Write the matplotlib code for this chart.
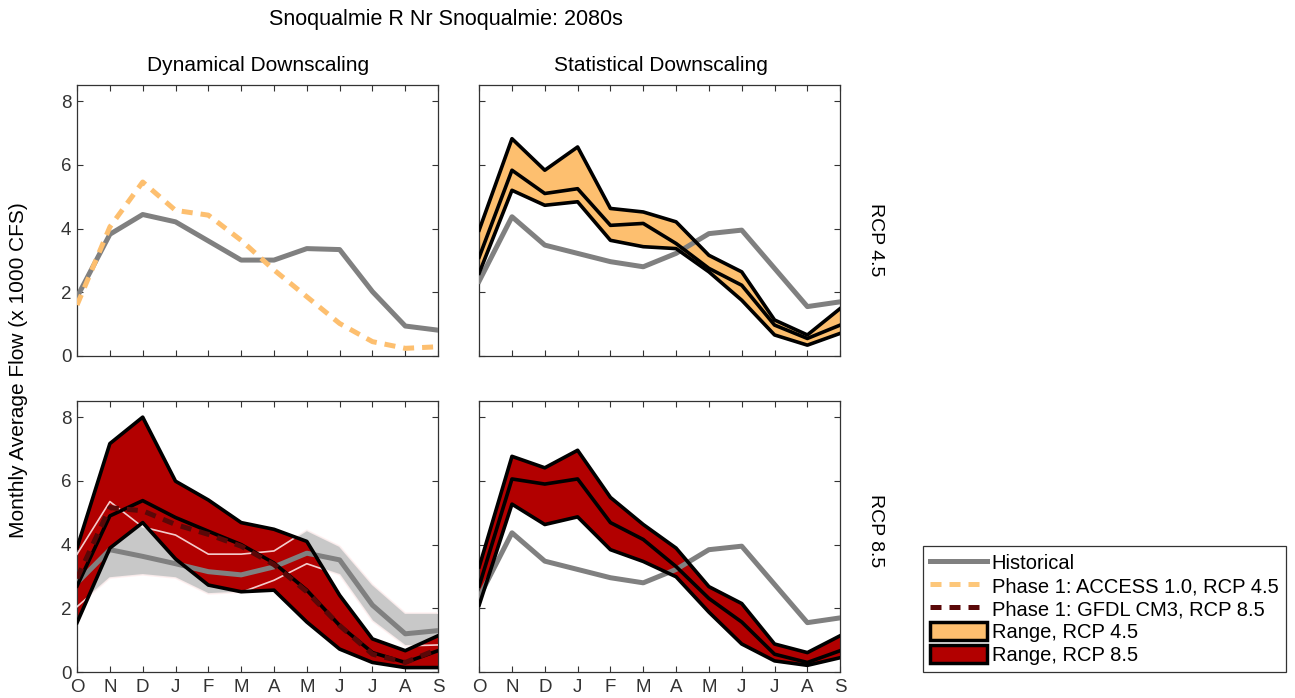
import numpy as np
import matplotlib.pyplot as plt
from matplotlib.lines import Line2D
from matplotlib.patches import Patch

plt.rcParams['font.family'] = ['Liberation Sans', 'DejaVu Sans']

# ---- data (x 1000 cfs) ----
months = ['O', 'N', 'D', 'J', 'F', 'M', 'A', 'M', 'J', 'J', 'A', 'S']

# dynamical, RCP 4.5
hist_dyn45 = [1.85, 3.82, 4.44, 4.21, 3.61, 3.01, 3.01, 3.37, 3.34, 2.02, 0.94, 0.81]
access_45 = [1.6, 4.05, 5.46, 4.57, 4.42, 3.63, 2.7, 1.86, 1.02, 0.45, 0.24, 0.29]

# dynamical, RCP 8.5
hist_dyn85 = [2.8, 3.84, 3.63, 3.4, 3.15, 3.05, 3.3, 3.73, 3.52, 2.1, 1.2, 1.3]
hist_dyn85_hi = [3.7, 5.35, 4.55, 4.3, 3.7, 3.7, 3.8, 4.45, 3.95, 2.75, 1.85, 1.85]
hist_dyn85_lo = [2.05, 2.95, 3.05, 2.95, 2.45, 2.5, 2.88, 3.4, 3.05, 1.6, 0.82, 0.85]
dyn85_hi = [3.9, 7.17, 8.0, 5.99, 5.4, 4.69, 4.48, 4.1, 2.41, 1.04, 0.67, 1.14]
dyn85_mid = [2.7, 4.9, 5.38, 4.85, 4.42, 4.0, 3.42, 2.57, 1.46, 0.61, 0.30, 0.67]
dyn85_lo = [1.55, 3.89, 4.69, 3.55, 2.73, 2.52, 2.57, 1.57, 0.72, 0.30, 0.14, 0.14]
gfdl_85 = [2.94, 5.16, 5.06, 4.63, 4.32, 3.95, 3.37, 2.52, 1.46, 0.56, 0.30, 0.72]

# statistical
hist_stat = [2.35, 4.37, 3.48, 3.22, 2.96, 2.80, 3.22, 3.84, 3.95, 2.75, 1.55, 1.70]
stat45_hi = [3.95, 6.82, 5.83, 6.56, 4.63, 4.52, 4.21, 3.16, 2.64, 1.13, 0.66, 1.49]
stat45_mid = [3.1, 5.83, 5.10, 5.25, 4.10, 4.16, 3.53, 2.75, 2.22, 0.97, 0.55, 0.97]
stat45_lo = [2.6, 5.2, 4.73, 4.84, 3.63, 3.43, 3.37, 2.64, 1.75, 0.66, 0.34, 0.71]
stat85_hi = [3.3, 6.77, 6.41, 6.96, 5.48, 4.63, 3.89, 2.68, 2.15, 0.88, 0.61, 1.14]
stat85_mid = [2.7, 6.06, 5.90, 6.06, 4.69, 4.16, 3.31, 2.31, 1.57, 0.56, 0.30, 0.67]
stat85_lo = [2.1, 5.27, 4.63, 4.87, 3.84, 3.47, 2.99, 1.88, 0.88, 0.35, 0.21, 0.45]

# ---- styles ----
c_hist = '#808080'
c_band = '#C8C8C8'
c_org = '#FDBF6F'
c_red = '#B20000'
c_dkred = '#5A0808'
lw_hist = 3.6
lw_blk = 2.6
dash = (0, (2.2, 1.6))

x = np.arange(len(months))

fig = plt.figure(figsize=(12.95, 6.98), dpi=100)
w, h = 0.2788, 0.388
ax_tl = fig.add_axes([0.0595, 0.490, w, h])
ax_tr = fig.add_axes([0.370, 0.490, w, h])
ax_bl = fig.add_axes([0.0595, 0.0372, w, h])
ax_br = fig.add_axes([0.370, 0.0372, w, h])


def band(ax, hi, mid, lo, color):
    ax.fill_between(x, lo, hi, facecolor=color, edgecolor='none', zorder=2)
    for yy in (hi, mid, lo):
        ax.plot(x, yy, color='k', lw=lw_blk, zorder=5)


# top left
ax_tl.plot(x, hist_dyn45, color=c_hist, lw=lw_hist, zorder=3)
ax_tl.plot(x, access_45, color=c_org, lw=lw_hist, ls=dash, zorder=4)

# top right
ax_tr.plot(x, hist_stat, color=c_hist, lw=lw_hist, zorder=3)
band(ax_tr, stat45_hi, stat45_mid, stat45_lo, c_org)

# bottom left
ax_bl.fill_between(x, hist_dyn85_lo, hist_dyn85_hi, facecolor=c_band, edgecolor='none', zorder=1)
band(ax_bl, dyn85_hi, dyn85_mid, dyn85_lo, c_red)
for yy in (hist_dyn85_hi, hist_dyn85_lo):
    ax_bl.plot(x, yy, color='#FFF0F0', lw=1.2, alpha=0.85, zorder=3)
ax_bl.plot(x, hist_dyn85, color=c_hist, lw=lw_hist, zorder=4)
ax_bl.plot(x, gfdl_85, color=c_dkred, lw=lw_hist, ls=dash, zorder=6)

# bottom right
ax_br.plot(x, hist_stat, color=c_hist, lw=lw_hist, zorder=3)
band(ax_br, stat85_hi, stat85_mid, stat85_lo, c_red)

for ax in (ax_tl, ax_tr, ax_bl, ax_br):
    ax.set_xlim(0, 11)
    ax.set_ylim(0, 8.5)
    ax.set_xticks(x)
    ax.set_yticks([0, 2, 4, 6, 8])
    ax.tick_params(direction='in', top=True, right=True, length=4,
                   width=0.8, labelsize=13.5, colors='#333333')
    ax.tick_params(axis='x', pad=5)
    ax.tick_params(axis='y', pad=4)
    for s in ax.spines.values():
        s.set_color('#333333')
        s.set_linewidth(0.9)

for ax in (ax_tl, ax_tr):
    ax.set_xticklabels([])
for ax in (ax_bl, ax_br):
    ax.set_xticklabels(months)
for ax in (ax_tr, ax_br):
    ax.set_yticklabels([])

fig.text(0.344, 0.972, 'Snoqualmie R Nr Snoqualmie: 2080s', ha='center', va='center', fontsize=15.5)
fig.text(0.199, 0.906, 'Dynamical Downscaling', ha='center', va='center', fontsize=15)
fig.text(0.510, 0.906, 'Statistical Downscaling', ha='center', va='center', fontsize=15)
fig.text(0.676, 0.656, 'RCP 4.5', ha='center', va='center', rotation=-90, fontsize=14)
fig.text(0.676, 0.240, 'RCP 8.5', ha='center', va='center', rotation=-90, fontsize=14)
fig.text(0.014, 0.47, 'Monthly Average Flow (x 1000 CFS)', ha='center', va='center',
         rotation=90, fontsize=15)

handles = [
    Line2D([], [], color=c_hist, lw=lw_hist),
    Line2D([], [], color='#FDC77A', lw=lw_hist, ls=dash),
    Line2D([], [], color=c_dkred, lw=lw_hist, ls=dash),
    Patch(facecolor=c_org, edgecolor='k', lw=2.5),
    Patch(facecolor=c_red, edgecolor='k', lw=2.5),
]
labels = ['Historical', 'Phase 1: ACCESS 1.0, RCP 4.5', 'Phase 1: GFDL CM3, RCP 8.5',
          'Range, RCP 4.5', 'Range, RCP 8.5']
leg = fig.legend(handles, labels, loc='lower left', bbox_to_anchor=(0.713, 0.037),
                 fontsize=14.5, frameon=True, fancybox=False, framealpha=1,
                 handlelength=2.8, handleheight=1.0, labelspacing=0.15,
                 handletextpad=0.25, borderpad=0.35, borderaxespad=0)
leg.get_frame().set_edgecolor('#333333')
leg.get_frame().set_linewidth(0.9)

fig.savefig('out.png', dpi=100)
